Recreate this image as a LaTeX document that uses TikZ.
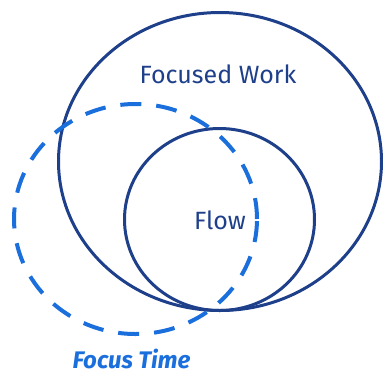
\documentclass[tikz,border=0pt]{standalone}
\usepackage{fontspec}
\setmainfont{Fira Sans}
\usepackage{tikz}
\usetikzlibrary{shapes,positioning}
\definecolor{navy}{HTML}{1E3F8A}
\definecolor{focusblue}{HTML}{1A6FDC}
\tikzstyle{ring} = [draw=navy, ellipse, line width=3pt, inner sep=0pt]
\tikzstyle{dashring} = [draw=focusblue, ellipse, line width=4pt,
    dash pattern=on 21pt off 15pt, inner sep=0pt]
\tikzstyle{caption} = [text=navy, font=\fontsize{25}{29}\selectfont, inner sep=0pt]

\begin{document}
\begin{tikzpicture}[x=1pt, y=-1pt]
  \useasboundingbox (0,0) rectangle (383,376);
  % Place rings
  \node [ring, minimum width=323pt, minimum height=298pt] (work) at (220,161.5) {};
  \node [ring, minimum width=190pt, minimum height=182pt] (flow) at (219.5,219.5) {};
  \node [dashring, minimum width=243pt, minimum height=230pt] (time) at (135.5,219) {};
  % Place texts
  \node [caption] (worktext) at (218,74) {Focused Work};
  \node [caption] (flowtext) at (220,220) {Flow};
  \node [caption, text=focusblue, font=\fontsize{24}{28}\selectfont\bfseries\itshape,
    below=13pt of time, xshift=-4pt] (timetext) {Focus Time};
\end{tikzpicture}
\end{document}
